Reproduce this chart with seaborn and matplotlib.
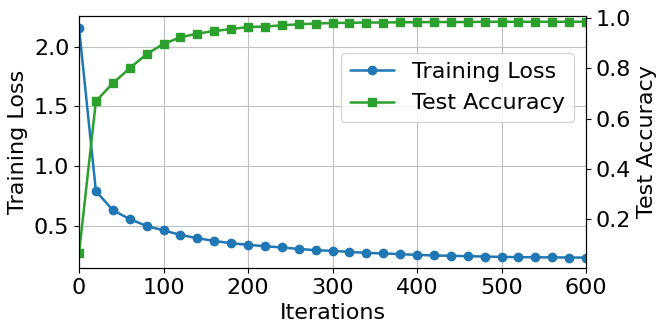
import matplotlib
matplotlib.use("Agg")
import matplotlib.pyplot as plt
import seaborn as sns

iterations = list(range(0, 601, 20))
training_loss = [2.16, 0.79, 0.63, 0.555, 0.498, 0.46, 0.423, 0.395, 0.372, 0.353,
                 0.339, 0.328, 0.317, 0.305, 0.294, 0.289, 0.280, 0.272, 0.267, 0.261,
                 0.255, 0.250, 0.247, 0.244, 0.241, 0.238, 0.236, 0.235, 0.234, 0.233, 0.232]
test_accuracy = [0.063, 0.670, 0.741, 0.801, 0.857, 0.898, 0.924, 0.939, 0.949, 0.957,
                 0.965, 0.967, 0.972, 0.976, 0.979, 0.981, 0.982, 0.983, 0.983, 0.984,
                 0.984, 0.985, 0.985, 0.985, 0.986, 0.986, 0.986, 0.986, 0.986, 0.986, 0.986]

sns.set_style("ticks")
plt.rcParams['font.family'] = ['DejaVu Sans']
plt.rcParams['font.size'] = 16
for k in ['text.color', 'axes.labelcolor', 'xtick.color', 'ytick.color', 'axes.edgecolor']:
    plt.rcParams[k] = 'black'

blue = '#1f77b4'
green = '#2ca02c'

fig = plt.figure(figsize=(6.65, 3.33), dpi=100)
ax = fig.add_axes([79/665, 1 - 268/333, (586 - 79)/665, (268 - 16)/333])
ax2 = ax.twinx()

sns.lineplot(x=iterations, y=training_loss, ax=ax, color=blue, marker='o',
             markersize=6, linewidth=1.8, markeredgecolor=blue, markeredgewidth=1,
             label='Training Loss', legend=False)
sns.lineplot(x=iterations, y=test_accuracy, ax=ax2, color=green, marker='s',
             markersize=6, linewidth=1.8, markeredgecolor=green, markeredgewidth=1,
             label='Test Accuracy', legend=False)

ax.set_xlim(0, 600)
ax.set_ylim(0.145, 2.258)
ax2.set_ylim(0.005, 1.009)
ax.set_xticks([0, 100, 200, 300, 400, 500, 600])
ax.set_yticks([0.5, 1.0, 1.5, 2.0])
ax2.set_yticks([0.2, 0.4, 0.6, 0.8, 1.0])

ax.set_xlabel('Iterations', fontsize=16, color='black')
ax.set_ylabel('Training Loss', fontsize=16, color='black')
ax2.set_ylabel('Test Accuracy', fontsize=16, color='black')
ax.tick_params(labelsize=16, colors='black')
ax2.tick_params(labelsize=16, colors='black')

ax.grid(True, color='#c0c0c0', linewidth=0.8)
ax.set_axisbelow(True)

for a in (ax, ax2):
    for s in a.spines.values():
        s.set_visible(True)
        s.set_color('black')
        s.set_linewidth(0.8)

h1, l1 = ax.get_legend_handles_labels()
h2, l2 = ax2.get_legend_handles_labels()
leg = ax2.legend(h1 + h2, l1 + l2, loc='upper right', bbox_to_anchor=(0.976, 0.852),
                 borderaxespad=0, fontsize=16, frameon=True)
for t in leg.get_texts():
    t.set_color('black')

fig.savefig('out.png', dpi=100)
